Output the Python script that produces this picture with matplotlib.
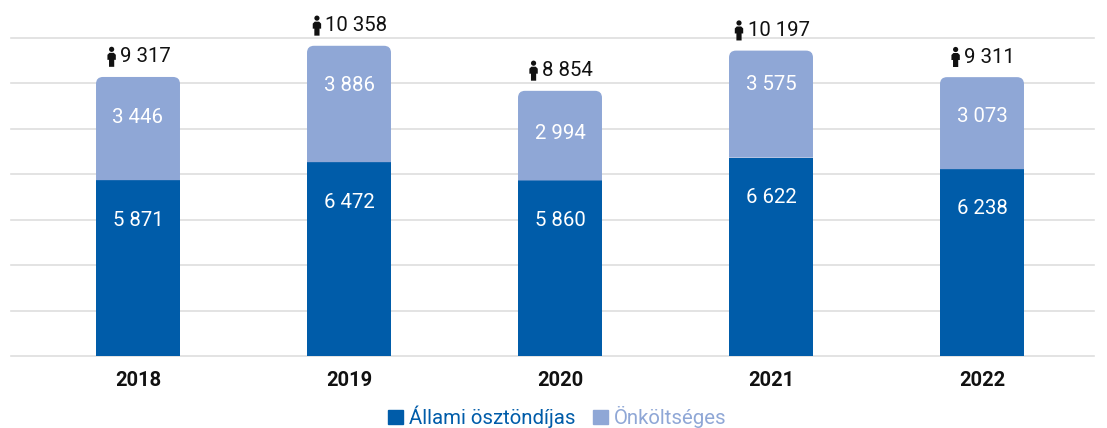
import numpy as np
import matplotlib
matplotlib.use("Agg")
import matplotlib.pyplot as plt
from matplotlib.patches import Circle, PathPatch, Polygon, Patch
from matplotlib.path import Path
from matplotlib.transforms import IdentityTransform

# ── Data ──────────────────────────────────────────────────────────────────────
YEARS = ["2018", "2019", "2020", "2021", "2022"]
ALLAMI = [5871, 6472, 5860, 6622, 6238]
ONKOLT = [3446, 3886, 2994, 3575, 3073]
TOTALS = [9317, 10358, 8854, 10197, 9311]

# where the value labels sit inside each segment (0 = bottom, 1 = top)
ALLAMI_POS = [0.77, 0.79, 0.77, 0.80, 0.79]
ONKOLT_POS = [0.61, 0.655, 0.52, 0.685, 0.57]

BLUE = "#005CA9"
LIGHT = "#8FA7D6"
GRID = "#DEDEDE"
DARK = "#111111"
FONT = ["Roboto", "DejaVu Sans"]
FS = 14.7
YMAX = 10618
W = 0.398


def fmt(v):
    return f"{v:,}".replace(",", " ")


def rounded_top(x, y0, y1, w, rx, ry):
    l, r = x - w / 2, x + w / 2
    verts = [(l, y0), (l, y1 - ry), (l, y1), (l + rx, y1), (r - rx, y1),
             (r, y1), (r, y1 - ry), (r, y0), (l, y0)]
    codes = [Path.MOVETO, Path.LINETO, Path.CURVE3, Path.CURVE3, Path.LINETO,
             Path.CURVE3, Path.CURVE3, Path.LINETO, Path.CLOSEPOLY]
    return Path(verts, codes)


def person(fig, cx, cy):
    # small person icon, in pixels, about 20 px tall
    pix = IdentityTransform()
    y0 = cy - 10
    fig.add_artist(Circle((cx, y0 + 17.5), 2.6, transform=pix, color=DARK, lw=0))
    body = [(-2.2, 14), (2.2, 14), (4.2, 12), (4.2, 7), (2.6, 7),
            (2.6, 0), (-2.6, 0), (-2.6, 7), (-4.2, 7), (-4.2, 12)]
    fig.add_artist(Polygon([(cx + a, y0 + b) for a, b in body], closed=True,
                           transform=pix, color=DARK, lw=0))


plt.rcParams["font.family"] = FONT
fig = plt.figure(figsize=(11.07, 4.28), dpi=100)
ax = fig.add_axes([11 / 1107, (428 - 356) / 428, (1094 - 11) / 1107, 318 / 428])
ax.set_xlim(-127 / 211, 4 + 112 / 211)
ax.set_ylim(0, YMAX)

x = np.arange(len(YEARS))
ax.bar(x, ALLAMI, width=W, color=BLUE, zorder=3)

totals = []
for i, (a, o, t) in enumerate(zip(ALLAMI, ONKOLT, TOTALS)):
    # top segment has rounded upper corners, radius about 7 px
    ax.add_patch(PathPatch(rounded_top(i, a, a + o, W, 7 / 211, 7 * YMAX / 318),
                           facecolor=LIGHT, edgecolor="none", zorder=3))
    ax.text(i, a * ALLAMI_POS[i], fmt(a), color="white", ha="center", va="center",
            fontsize=FS, zorder=4)
    ax.text(i, a + o * ONKOLT_POS[i], fmt(o), color="white", ha="center", va="center",
            fontsize=FS, zorder=4)
    totals.append(ax.annotate(fmt(t), (i, a + o), xytext=(5.4, 14.5),
                              textcoords="offset points", ha="center", va="center",
                              fontsize=FS, color=DARK, annotation_clip=False))

ax.set_yticks(np.linspace(0, YMAX, 8))
ax.set_yticklabels([])
ax.set_xticks(x)
ax.set_xticklabels(YEARS, fontsize=14.5, fontweight="bold", color=DARK)
ax.tick_params(axis="both", length=0)
ax.tick_params(axis="x", pad=11)
ax.grid(axis="y", color=GRID, linewidth=1.2, zorder=0, clip_on=False)
ax.set_axisbelow(True)
for s in ax.spines.values():
    s.set_visible(False)

handles = [Patch(color=BLUE), Patch(color=LIGHT)]
leg = fig.legend(handles, ["Állami ösztöndíjas", "Önköltséges"], ncol=2, frameon=False,
                 loc="center", bbox_to_anchor=(557.5 / 1107, 1 - 417 / 428),
                 fontsize=FS, handlelength=0.72, handleheight=0.72,
                 handletextpad=0.3, columnspacing=0.85, borderpad=0)
for txt, c in zip(leg.get_texts(), [BLUE, LIGHT]):
    txt.set_color(c)

# icons go just left of the finished total labels
fig.canvas.draw()
rend = fig.canvas.get_renderer()
for lab in totals:
    box = lab.get_window_extent(rend)
    person(fig, box.x0 - 8.5, (box.y0 + box.y1) / 2)

fig.savefig("out.png", dpi=100)
